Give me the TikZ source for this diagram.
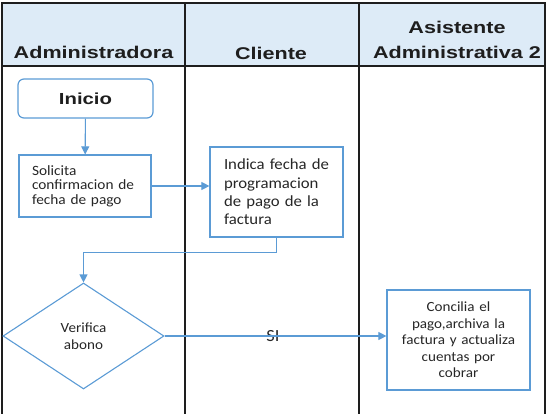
\documentclass[tikz,border=0pt]{standalone}
\usepackage{fontspec}
\usepackage{tikz}
\usetikzlibrary{arrows.meta, positioning, calc, shapes.geometric}
\newfontfamily\headfont[FakeStretch=1.27]{Liberation Sans}
\newfontfamily\boxfont[FakeStretch=1.08]{Carlito}
\definecolor{headblue}{RGB}{221,235,247}
\definecolor{flowblue}{RGB}{91,155,213}
\definecolor{lanegray}{RGB}{30,30,30}

\begin{document}
\begin{tikzpicture}[x=1pt, y=-1pt,
  lane/.style={lanegray, line width=1.6pt},
  headtxt/.style={font=\headfont\bfseries\fontsize{17}{25}\selectfont, text=lanegray, align=center, inner sep=0pt},
  startbox/.style={draw=flowblue, line width=1.2pt, rounded corners=6pt, minimum width=135pt, minimum height=39pt,
    font=\headfont\bfseries\fontsize{16}{18}\selectfont, text=lanegray},
  procbox/.style={draw=flowblue, line width=1.2pt, inner sep=0pt, text=black!85},
  decbox/.style={draw=flowblue, line width=1.1pt, diamond, inner sep=0pt, minimum width=161pt, minimum height=106pt,
    font=\boxfont\fontsize{14}{17}\selectfont, align=center, text=black!85},
  flow/.style={flowblue, line width=1.1pt, -{Triangle[length=8pt, width=8pt]}}]
  \useasboundingbox (0,0) rectangle (548,414);
  % lanes
  \fill[headblue] (2,3) rectangle (545,66);
  \draw[lane] (2,414) -- (2,3) -- (545,3) -- (545,414);
  \draw[lane] (2,66) -- (545,66);
  \foreach \x in {185,359} {
    \draw[lane] (\x,3) -- (\x,414);
  }
  \node[headtxt, anchor=base] (hadmin) at (93.5,59) {Administradora};
  \node[headtxt, anchor=base] (hcliente) at (271,60) {Cliente};
  \node[headtxt, anchor=south] (hasist) at (457,59) {Asistente\\Administrativa 2};
  % steps
  \node[startbox] (inicio) at (85.5,98.5) {Inicio};
  \node[procbox, minimum width=132pt, minimum height=62pt, text width=106pt, align=left,
    font=\boxfont\fontsize{14.2}{14.5}\selectfont] (solicita) at (85,186)
    {Solicita\\confirmacion de\\fecha de pago};
  \node[procbox, minimum width=133pt, minimum height=90pt, text width=105pt, align=left,
    font=\boxfont\fontsize{15.5}{18.3}\selectfont] (indica) at (276.5,192)
    {Indica fecha de\\programacion\\de pago de la\\factura};
  \node[decbox] (verifica) at (83.5,336) {Verifica\\abono};
  \node[procbox, minimum width=143pt, minimum height=100pt, text width=135pt, align=center,
    font=\boxfont\fontsize{14}{16.5}\selectfont] (concilia) at (458.5,340)
    {Concilia el\\pago,archiva la\\factura y actualiza\\cuentas por\\cobrar};
  \node[font=\boxfont\fontsize{17}{20}\selectfont, text=black!85, inner sep=0pt] (si) at (273,336) {SI};
  % connectors
  \draw[flow] (inicio) -- (solicita);
  \draw[flow] (solicita.east) -- (solicita.east -| indica.west);
  \draw[flow] (indica.south) -- ++(0,15) -| (verifica.north);
  \draw[flow] (verifica.east) -- (verifica.east -| concilia.west);
\end{tikzpicture}
\end{document}
